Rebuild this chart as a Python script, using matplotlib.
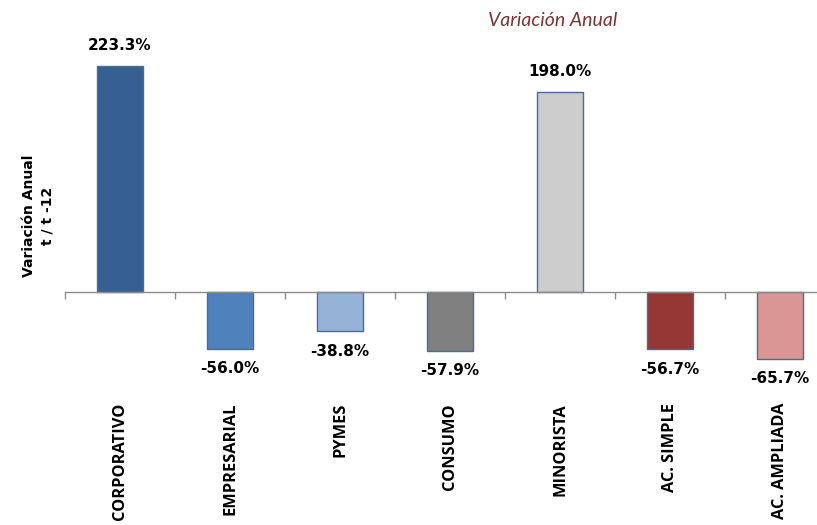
import matplotlib.pyplot as plt
import numpy as np

categories = ["CORPORATIVO", "EMPRESARIAL", "PYMES", "CONSUMO",
              "MINORISTA", "AC. SIMPLE", "AC. AMPLIADA"]
values = [223.3, -56.0, -38.8, -57.9, 198.0, -56.7, -65.7]
colors = ["#376092", "#4F81BD", "#95B3D7", "#808080",
          "#CCCCCC", "#953735", "#D99694"]

fig = plt.figure(figsize=(8.17, 5.25), dpi=100)
# axes: left edge at x=65px, zero line at y=292px, ~1.012 px per unit
ax = fig.add_axes([65 / 817, 1 - 373 / 525, 752 / 817, 324 / 525])

x = np.arange(len(categories))
ax.bar(x, values, width=0.42, color=colors, edgecolor="#4A6A9A", linewidth=1.0, zorder=2)

for s in ["top", "right", "left"]:
    ax.spines[s].set_visible(False)
ax.spines["bottom"].set_position(("data", 0))
ax.spines["bottom"].set_color("#8C8C8C")
ax.spines["bottom"].set_linewidth(1.0)
ax.set_yticks([])

ax.set_xticks(x)
ax.set_xticklabels(categories, rotation=90, va="top", ha="center",
                   fontfamily="Open Sans", fontweight="bold", fontsize=11.8)
ax.tick_params(axis="x", which="major", length=0, pad=111 * 0.72)
ax.set_xticks(np.arange(len(categories) + 1) - 0.5, minor=True)
ax.tick_params(axis="x", which="minor", length=5, direction="out", color="#8C8C8C", width=1.0)

# limits after the ticks, otherwise set_xticks widens the view
ax.set_xlim(-0.5, -0.5 + 752 / 110)
ax.set_ylim(-80, 240)

for xi, v in zip(x, values):
    off = 20 if v > 0 else -20
    ax.annotate(f"{v:.1f}%", (xi, v), xytext=(0, off * 0.72), textcoords="offset points",
                ha="center", va="center", fontsize=11, fontweight="bold",
                fontfamily="DejaVu Sans")

fig.text(553 / 817, 1 - 21 / 525, "Variación Anual", ha="center", va="center",
         fontsize=14, fontstyle="italic", color="#7A3432", fontfamily="Lato")
fig.text(38 / 817, 1 - 216 / 525, "Variación Anual\nt / t -12", rotation=90,
         ha="center", va="center", fontsize=10, fontweight="bold",
         fontfamily="DejaVu Sans", linespacing=1.45)

fig.savefig("out.png", dpi=100)
